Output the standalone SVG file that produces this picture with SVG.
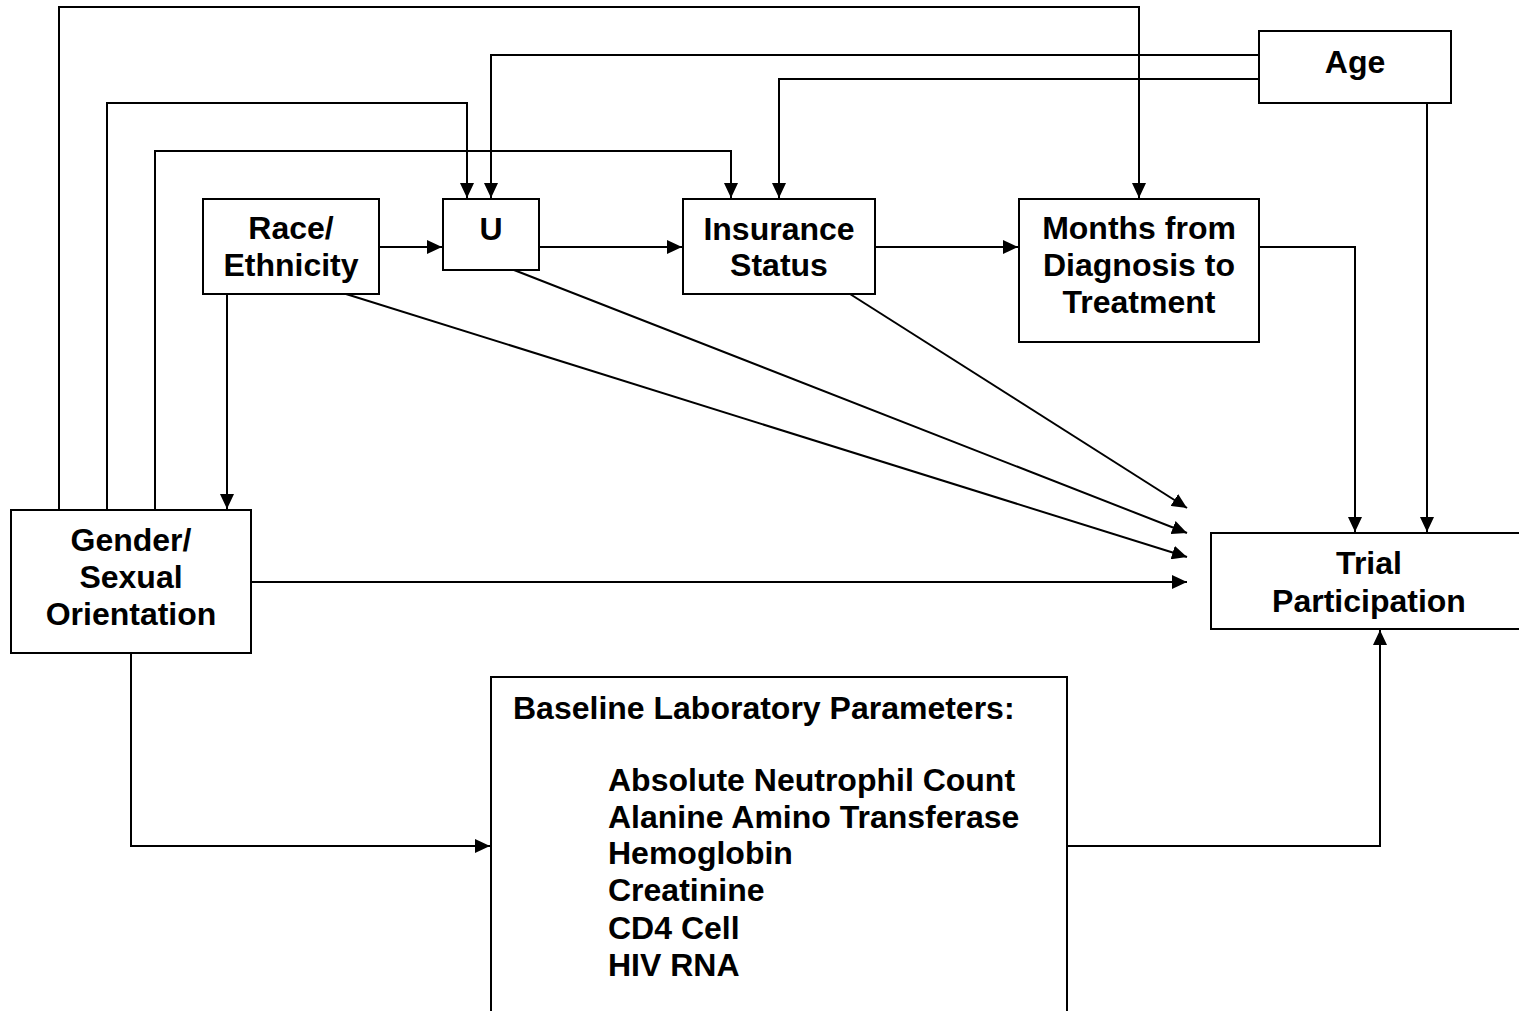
<svg xmlns="http://www.w3.org/2000/svg" width="1519" height="1011" viewBox="0 0 1519 1011">
<style>
.box{fill:#fff;stroke:#000;stroke-width:2}
.t{font-family:"Liberation Sans",Arial,sans-serif;font-weight:bold;font-size:32px;fill:#000}
.c{text-anchor:middle}
.ln{fill:none;stroke:#000;stroke-width:2}
</style>
<defs>
<marker id="ah" markerUnits="userSpaceOnUse" markerWidth="16" markerHeight="14" refX="15" refY="7" orient="auto">
<path d="M0,0 L15,7 L0,14 Z" fill="#000"/>
</marker>
</defs>
<rect width="1519" height="1011" fill="#fff"/>
<g id="connectors">
<polyline class="ln" points="59,510 59,7 1139,7 1139,198" marker-end="url(#ah)"/>
<polyline class="ln" points="107,510 107,103 467,103 467,198" marker-end="url(#ah)"/>
<polyline class="ln" points="155,510 155,151 731,151 731,198" marker-end="url(#ah)"/>
<polyline class="ln" points="1259,55 491,55 491,198" marker-end="url(#ah)"/>
<polyline class="ln" points="1259,79 779,79 779,198" marker-end="url(#ah)"/>
<line class="ln" x1="227" y1="294" x2="227" y2="509" marker-end="url(#ah)"/>
<line class="ln" x1="379" y1="247" x2="442" y2="247" marker-end="url(#ah)"/>
<line class="ln" x1="539" y1="247" x2="682" y2="247" marker-end="url(#ah)"/>
<line class="ln" x1="875" y1="247" x2="1018" y2="247" marker-end="url(#ah)"/>
<polyline class="ln" points="1259,247 1355,247 1355,532" marker-end="url(#ah)"/>
<line class="ln" x1="1427" y1="103" x2="1427" y2="532" marker-end="url(#ah)"/>
<line class="ln" x1="850" y1="294" x2="1187" y2="508" marker-end="url(#ah)"/>
<line class="ln" x1="514" y1="270" x2="1187" y2="533" marker-end="url(#ah)"/>
<line class="ln" x1="346" y1="294" x2="1187" y2="557" marker-end="url(#ah)"/>
<line class="ln" x1="251" y1="582" x2="1187" y2="582" marker-end="url(#ah)"/>
<polyline class="ln" points="131,653 131,846 490,846" marker-end="url(#ah)"/>
<polyline class="ln" points="1067,846 1380,846 1380,630" marker-end="url(#ah)"/>
</g>
<g id="age">
<rect class="box" x="1259" y="31" width="192" height="72"/>
<text class="t c" x="1355" y="73">Age</text>
</g>
<g id="race">
<rect class="box" x="203" y="199" width="176" height="95"/>
<text class="t c" x="291" y="239">Race/</text>
<text class="t c" x="291" y="276">Ethnicity</text>
</g>
<g id="u">
<rect class="box" x="443" y="199" width="96" height="71"/>
<text class="t c" x="491" y="240">U</text>
</g>
<g id="insurance">
<rect class="box" x="683" y="199" width="192" height="95"/>
<text class="t c" x="779" y="240">Insurance</text>
<text class="t c" x="779" y="276">Status</text>
</g>
<g id="months">
<rect class="box" x="1019" y="199" width="240" height="143"/>
<text class="t c" x="1139" y="239">Months from</text>
<text class="t c" x="1139" y="276">Diagnosis to</text>
<text class="t c" x="1139" y="313">Treatment</text>
</g>
<g id="gender">
<rect class="box" x="11" y="510" width="240" height="143"/>
<text class="t c" x="131" y="551">Gender/</text>
<text class="t c" x="131" y="588">Sexual</text>
<text class="t c" x="131" y="625">Orientation</text>
</g>
<g id="trial">
<rect class="box" x="1211" y="533" width="320" height="96"/>
<text class="t c" x="1369" y="574">Trial</text>
<text class="t c" x="1369" y="612">Participation</text>
</g>
<g id="baseline">
<rect class="box" x="491" y="677" width="576" height="360"/>
<text class="t" x="513" y="719">Baseline Laboratory Parameters:</text>
<text class="t" x="608" y="791">Absolute Neutrophil Count</text>
<text class="t" x="608" y="828">Alanine Amino Transferase</text>
<text class="t" x="608" y="864">Hemoglobin</text>
<text class="t" x="608" y="901">Creatinine</text>
<text class="t" x="608" y="939">CD4 Cell</text>
<text class="t" x="608" y="976">HIV RNA</text>
</g>
</svg>
